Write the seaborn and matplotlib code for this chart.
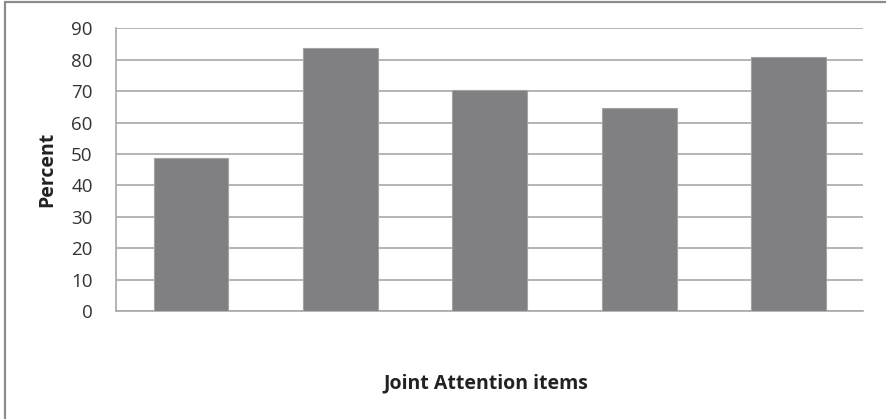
import matplotlib
matplotlib.use("Agg")
import matplotlib.pyplot as plt
import seaborn as sns
import pandas as pd
from matplotlib.lines import Line2D

# dados
items = ["Item 1", "Item 2", "Item 3", "Item 4", "Item 5"]
percent = [48.6, 83.7, 70.4, 64.6, 80.8]
yticks = [0, 10, 20, 30, 40, 50, 60, 70, 80, 90]

BAR_COLOR = "#808083"
GRID_COLOR = "#a8a8a8"

sns.set_theme(style="white")
plt.rcParams["font.family"] = ["Open Sans", "DejaVu Sans"]

df = pd.DataFrame({"item": items, "percent": percent})

fig = plt.figure(figsize=(8.86, 4.19), dpi=100)
ax = fig.add_axes([0.1313, 0.2578, 0.8431, 0.6742])

sns.barplot(data=df, x="item", y="percent", color=BAR_COLOR, width=0.5,
            edgecolor="#a3a3a3", linewidth=0.8, saturation=1, ax=ax, zorder=3)

ax.set_ylim(0, 90)
ax.set_xlim(-0.5, len(items) - 0.5)
ax.set_yticks(yticks)
ax.set_yticklabels([str(t) for t in yticks], fontsize=13.5, color="#333333")
ax.set_xticks([])
ax.tick_params(axis="y", length=0, pad=17)

ax.yaxis.grid(True, color=GRID_COLOR, linewidth=1.2, zorder=0)
ax.set_axisbelow(True)

for s in ["top", "right"]:
    ax.spines[s].set_visible(False)
ax.spines["left"].set_color(GRID_COLOR)
ax.spines["bottom"].set_color(GRID_COLOR)
ax.spines["left"].set_linewidth(1.2)
ax.spines["bottom"].set_linewidth(1.2)

ax.set_ylabel("Percent", fontsize=14, fontweight="bold", color="#222222")
ax.set_xlabel("Joint Attention items", fontsize=14, fontweight="bold", color="#222222")
ax.yaxis.set_label_coords(-0.079, 0.5)
ax.xaxis.set_label_coords(0.495, -0.223)

# moldura (só topo e esquerda visíveis no recorte)
fig.add_artist(Line2D([5 / 886, 5 / 886], [0, 1 - 2 / 419], transform=fig.transFigure,
                      color="#8c8c8c", linewidth=1.6))
fig.add_artist(Line2D([5 / 886, 1], [1 - 2 / 419, 1 - 2 / 419], transform=fig.transFigure,
                      color="#8c8c8c", linewidth=1.6))

fig.savefig("out.png", dpi=100)
